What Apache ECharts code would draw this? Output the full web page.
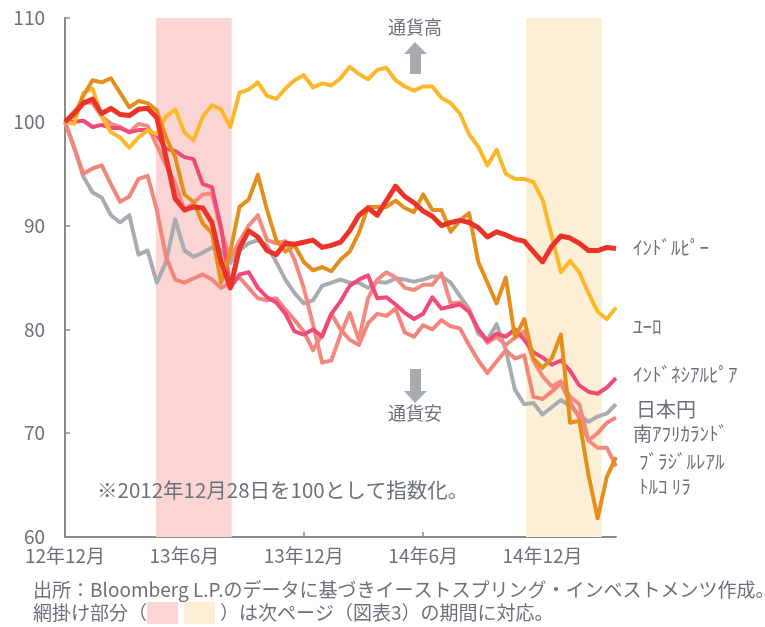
<!DOCTYPE html>
<html>
<head>
<meta charset="utf-8">
<script src="https://cdn.jsdelivr.net/npm/echarts/dist/echarts.min.js"></script>
<style>
html, body { margin: 0; padding: 0; background: #fff; }
#chart { width: 765px; height: 627px; }
</style>
</head>
<body>
<div id="chart"></div>
<script>
// 2週間ごと、2012/12/28 = 100
var tickLabels = ['12年12月', '13年6月', '13年12月', '14年6月', '14年12月'];

var inr = [100, 100.8, 101.8, 102.2, 100.8, 101.3, 100.7, 100.6, 101.2, 101.3,
  100.4, 96.6, 92.6, 91.5, 91.8, 91.7, 90.3, 86.5, 84.0, 87.8,
  89.5, 88.9, 87.6, 87.2, 88.3, 88.2, 88.4, 88.6, 87.9, 88.1,
  88.4, 89.5, 91.0, 91.7, 91.0, 92.4, 93.8, 92.8, 92.2, 91.4,
  90.9, 90.0, 90.3, 90.5, 90.3, 89.8, 88.9, 89.4, 89.1, 88.7,
  88.5, 87.5, 86.5, 88.0, 89.0, 88.8, 88.3, 87.6, 87.6, 87.9,
  87.8];
var eur = [100, 99.8, 102.8, 103.2, 100.5, 99.0, 98.5, 97.5, 98.5, 99.2,
  98.8, 100.5, 101.2, 99.0, 98.2, 100.5, 101.6, 101.2, 99.5, 102.8,
  103.1, 103.8, 102.5, 102.2, 103.2, 104.0, 104.5, 103.3, 103.7, 103.5,
  104.2, 105.3, 104.6, 104.1, 105.0, 105.2, 104.0, 103.4, 103.0, 103.4,
  103.4, 102.3, 101.8, 100.8, 98.8, 97.6, 95.8, 97.3, 95.0, 94.5,
  94.5, 94.2, 92.5, 89.0, 85.5, 86.6, 85.5, 83.5, 81.7, 81.0,
  82.1];
var idr = [100, 100, 100.1, 99.5, 99.7, 99.4, 99.4, 99.0, 99.2, 99.2,
  98.7, 97.4, 97.2, 96.6, 96.4, 94.0, 93.7, 89.8, 84.0, 85.3,
  85.5, 84.0, 83.1, 82.6, 81.5, 79.8, 79.5, 80.0, 79.3, 81.5,
  82.7, 84.2, 84.8, 85.2, 83.0, 83.1, 82.4, 81.6, 81.0, 81.5,
  83.1, 82.0, 82.2, 82.4, 81.7, 80.0, 78.9, 79.6, 79.3, 80.0,
  79.0, 77.8, 77.3, 76.6, 77.0, 76.0, 74.6, 74.0, 73.8, 74.4,
  75.3];
var jpy = [100, 97.5, 94.7, 93.2, 92.7, 91.0, 90.3, 91.0, 87.2, 87.6,
  84.5, 86.5, 90.6, 87.6, 87.0, 87.4, 87.9, 87.6, 86.4, 87.6,
  88.3, 88.6, 88.1, 86.5, 84.8, 83.5, 82.5, 82.8, 84.2, 84.5,
  84.8, 84.5, 84.5, 84.0, 84.6, 84.5, 84.9, 84.8, 84.6, 84.8,
  85.1, 85.1, 84.5, 83.2, 82.0, 79.6, 79.0, 80.5, 78.0, 74.2,
  72.8, 72.9, 71.8, 72.5, 73.2, 72.6, 71.8, 71.1, 71.6, 71.9,
  72.8];
var zar = [100, 97.5, 95.0, 95.5, 95.8, 94.0, 92.3, 92.8, 94.5, 94.8,
  91.5, 87.0, 84.8, 84.5, 84.9, 85.3, 84.8, 84.0, 84.5, 85.0,
  84.0, 83.0, 82.8, 83.0, 81.9, 80.9, 79.8, 78.0, 79.5, 81.5,
  80.0, 79.0, 78.5, 80.6, 81.5, 81.3, 82.0, 79.7, 79.3, 80.4,
  80.0, 80.9, 80.3, 80.1, 78.5, 77.0, 75.8, 76.9, 78.0, 77.2,
  77.5, 73.5, 73.3, 74.0, 74.8, 73.0, 71.5, 69.3, 70.0, 71.0,
  71.5];
var brl = [100, 100.6, 102.5, 104.0, 103.8, 104.2, 102.8, 101.4, 102.0, 101.8,
  101.1, 98.5, 96.6, 93.0, 92.3, 90.2, 89.3, 84.5, 87.5, 91.8,
  92.5, 94.9, 91.5, 88.6, 87.5, 88.1, 86.5, 85.7, 86.0, 85.6,
  86.7, 87.5, 89.3, 91.8, 91.8, 91.8, 92.4, 91.7, 91.3, 93.0,
  91.5, 91.5, 89.4, 90.5, 91.2, 86.5, 84.5, 82.5, 85.0, 79.2,
  81.0, 77.2, 76.3, 77.2, 79.5, 71.0, 71.2, 66.0, 61.8, 65.8,
  67.7];
var tryl = [100, 101.0, 101.9, 101.8, 100.5, 99.8, 99.5, 99.0, 99.8, 99.6,
  97.7, 95.8, 94.1, 91.5, 92.2, 93.0, 93.1, 89.5, 86.8, 88.5,
  90.0, 91.0, 88.6, 88.3, 88.5, 86.7, 84.0, 80.5, 76.8, 77.0,
  79.5, 81.6, 79.0, 83.0, 84.8, 85.5, 85.0, 84.0, 83.8, 84.3,
  84.3, 85.4, 82.5, 82.6, 81.8, 80.0, 78.7, 79.3, 78.5, 79.2,
  79.8, 77.0, 75.5, 74.5, 75.0, 73.5, 72.8, 69.3, 68.6, 68.6,
  66.8];

// 網掛け期間（2週間インデックス）
var shadePink = [9.9, 18.15];
var shadeYellow = [50.2, 58.45];

var names = ['ｲﾝﾄﾞﾙﾋﾟｰ', 'ﾕｰﾛ', 'ｲﾝﾄﾞﾈｼｱﾙﾋﾟｱ', '日本円', '南ｱﾌﾘｶﾗﾝﾄﾞ', 'ﾌﾞﾗｼﾞﾙﾚｱﾙ', 'ﾄﾙｺ ﾘﾗ'];

var weeks = [];
for (var i = 0; i < inr.length; i++) weeks.push(String(i));

var FONT = '"Noto Sans CJK JP", "Noto Sans", sans-serif';
var TXT = '#6b7178';
var AXIS = '#8a8a8a';

function line(name, data, color, width) {
  return {
    name: name, type: 'line', data: data, symbol: 'none', smooth: false,
    lineStyle: { color: color, width: width, join: 'round' },
    itemStyle: { color: color }
  };
}

function label(text, x, y, size) {
  return {
    type: 'text', x: x, y: y, z: 100, silent: true,
    style: { text: text, fill: TXT, font: (size || 18) + 'px ' + FONT, textVerticalAlign: 'middle' }
  };
}

var myChart = echarts.init(document.getElementById('chart'));

var option = {
  animation: false,
  grid: { left: 65, right: 149, top: 18, bottom: 90 },
  xAxis: [{
    type: 'category',
    data: weeks,
    boundaryGap: false,
    axisLine: { lineStyle: { color: AXIS, width: 2 } },
    axisTick: { inside: true, interval: 12, length: 5, lineStyle: { color: AXIS, width: 1.5 } },
    axisLabel: {
      interval: 12, margin: 9, color: TXT, fontSize: 19, fontFamily: FONT,
      formatter: function (v, idx) { return tickLabels[idx / 13] || ''; }
    },
    splitLine: { show: false }
  }, {
    type: 'value', min: 0, max: inr.length - 1, show: false
  }],
  yAxis: {
    type: 'value', min: 60, max: 110, interval: 10,
    axisLine: { show: true, lineStyle: { color: AXIS, width: 2 } },
    axisTick: { show: true, inside: true, length: 5, lineStyle: { color: AXIS, width: 1.5 } },
    axisLabel: { margin: 20, color: TXT, fontSize: 19, fontFamily: FONT },
    splitLine: { show: false }
  },
  series: [
    {
      type: 'line', xAxisIndex: 1, data: [], silent: true, z: 0,
      markArea: {
        silent: true,
        data: [
          [{ xAxis: shadePink[0], itemStyle: { color: '#fad5d3' } }, { xAxis: shadePink[1] }],
          [{ xAxis: shadeYellow[0], itemStyle: { color: '#fdefd6' } }, { xAxis: shadeYellow[1] }]
        ]
      }
    },
    line(names[3], jpy, '#a7acb1', 4),
    line(names[4], zar, '#f4857b', 4),
    line(names[6], tryl, '#f38a80', 4),
    line(names[2], idr, '#f04a79', 4),
    line(names[1], eur, '#fcb82b', 4),
    line(names[5], brl, '#e48e1c', 4),
    line(names[0], inr, '#eb3327', 5)
  ],
  graphic: [
    label(names[0], 633, 248, 19),
    label(names[1], 633, 327, 19),
    label(names[2], 633, 375, 19),
    label(names[3], 636, 409, 20),
    label(names[4], 633, 434, 19),
    label(names[5], 639, 462, 19),
    label(names[6], 639, 487, 19),
    { type: 'text', x: 415, y: 27, z: 100, silent: true,
      style: { text: '通貨高', fill: TXT, font: '18px ' + FONT, textAlign: 'center', textVerticalAlign: 'middle' } },
    { type: 'polygon', z: 100, silent: true,
      shape: { points: [[415, 42], [427, 54], [421, 54], [421, 74], [410, 74], [410, 54], [404, 54]] },
      style: { fill: '#a6abb0' } },
    { type: 'polygon', z: 100, silent: true,
      shape: { points: [[410, 369], [421, 369], [421, 391], [427, 391], [415, 403], [404, 391], [410, 391]] },
      style: { fill: '#a6abb0' } },
    { type: 'text', x: 415, y: 413, z: 100, silent: true,
      style: { text: '通貨安', fill: TXT, font: '18px ' + FONT, textAlign: 'center', textVerticalAlign: 'middle' } },
    label('※2012年12月28日を100として指数化。', 97, 490, 20.5),
    label('出所：Bloomberg L.P.のデータに基づきイーストスプリング・インベストメンツ作成。', 33, 590, 19),
    label('網掛け部分（', 33, 613, 19),
    { type: 'rect', z: 100, silent: true, shape: { x: 147, y: 602, width: 31, height: 22 }, style: { fill: '#fad5d3' } },
    { type: 'rect', z: 100, silent: true, shape: { x: 184, y: 602, width: 31, height: 22 }, style: { fill: '#fdefd6' } },
    label('）は次ページ（図表3）の期間に対応。', 220, 613, 19)
  ]
};

myChart.setOption(option);
</script>
</body>
</html>
